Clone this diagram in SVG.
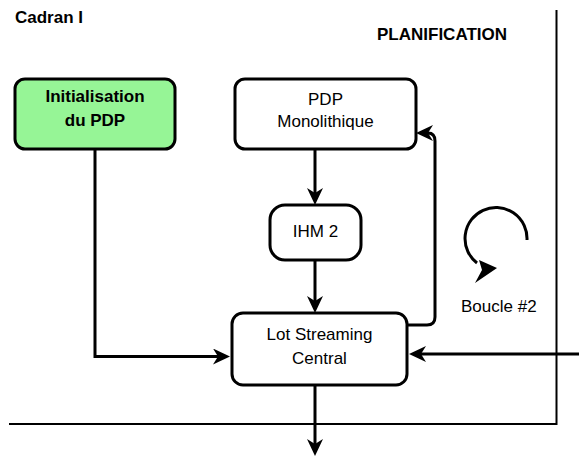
<svg xmlns="http://www.w3.org/2000/svg" width="579" height="457" viewBox="0 0 579 457">
<style>
text{font-family:"Liberation Sans",Arial,sans-serif;fill:#000;font-size:17px}
.b{font-weight:bold}
.m{text-anchor:middle}
.box{stroke:#000;stroke-width:3;fill:#fff}
.conn{fill:none;stroke:#000;stroke-width:3}
.div{fill:none;stroke:#000;stroke-width:2}
</style>
<defs>
<marker id="arr" markerUnits="userSpaceOnUse" markerWidth="18" markerHeight="16" viewBox="0 0 17 16" refX="5" refY="8" orient="auto">
<path d="M0,0 L17,8 L0,16 L5,8 Z" fill="#000"/>
</marker>
</defs>
<rect width="579" height="457" fill="#fff"/>
<g id="dividers">
<path class="div" d="M556.5,10 V424 H9"/>
</g>
<g id="labels">
<text class="b" x="15" y="23">Cadran I</text>
<text class="b" x="377" y="40">PLANIFICATION</text>
<text x="461" y="312">Boucle #2</text>
</g>
<g id="init">
<rect class="box" x="15" y="79" width="160" height="70" rx="10" fill="#96F596" style="fill:#96F596"/>
<text class="b m" x="95" y="102">Initialisation</text>
<text class="b m" x="95" y="126">du PDP</text>
</g>
<g id="pdp">
<rect class="box" x="235" y="79" width="181" height="70" rx="10"/>
<text class="m" x="325.5" y="105">PDP</text>
<text class="m" x="325.5" y="127">Monolithique</text>
</g>
<g id="ihm2">
<rect class="box" x="270" y="205" width="91" height="55" rx="15"/>
<text class="m" x="315.5" y="237">IHM 2</text>
</g>
<g id="lot">
<rect class="box" x="232" y="313" width="175" height="72" rx="11"/>
<text class="m" x="319.5" y="340">Lot Streaming</text>
<text class="m" x="319.5" y="364">Central</text>
</g>
<g id="connectors">
<path class="conn" d="M95,149 V356.5 H218" marker-end="url(#arr)"/>
<path class="conn" d="M315,149 V193" marker-end="url(#arr)"/>
<path class="conn" d="M315,260 V301" marker-end="url(#arr)"/>
<path class="conn" d="M407,325 H427 Q435,325 435,317 V141 Q435,133 428,133" marker-end="url(#arr)"/>
<path class="conn" d="M579,354 H421" marker-end="url(#arr)"/>
<path class="conn" d="M315,385 V444" marker-end="url(#arr)"/>
</g>
<g id="loop">
<path class="conn" d="M527,240 A31,31 0 1 0 477,263"/>
<polygon points="479,260 497,268 475,283 482,270" fill="#000"/>
</g>
</svg>
